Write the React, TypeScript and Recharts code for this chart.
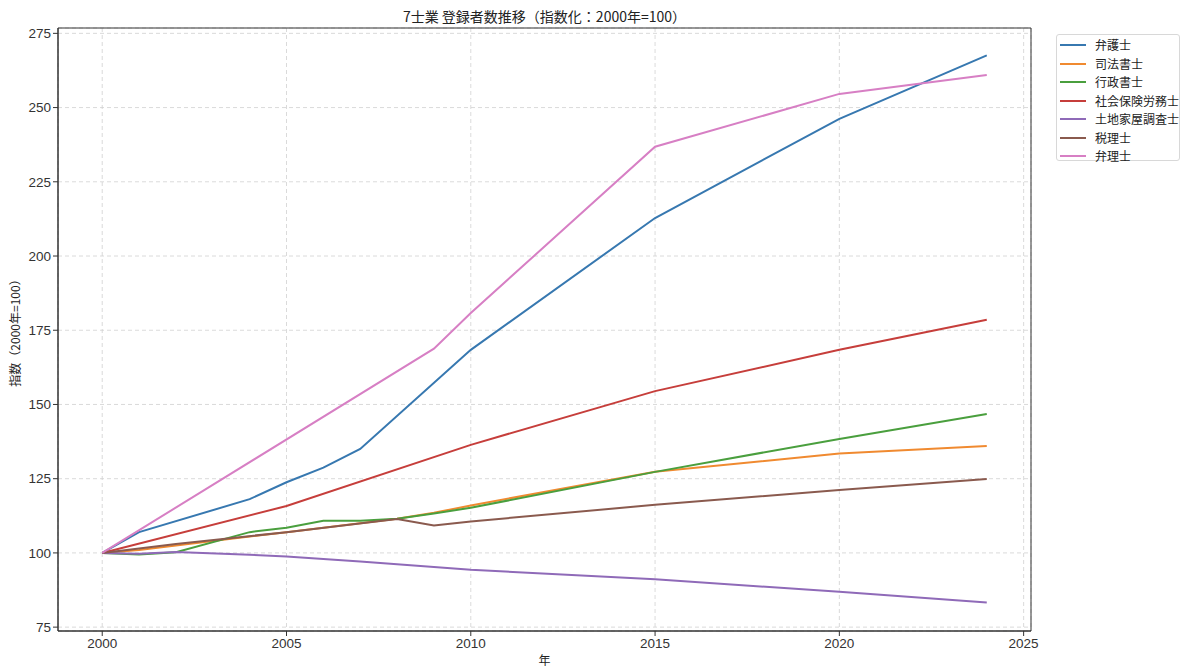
import React from 'react';
import { LineChart, Line, XAxis, YAxis, CartesianGrid, ReferenceArea } from 'recharts';

const years = [2000, 2001, 2002, 2003, 2004, 2005, 2006, 2007, 2008, 2009, 2010, 2015, 2020, 2024];

const bengoshi = [100, 107.0, null, null, 118.1, 123.8, 128.7, 135.0, null, null, 168.4, 212.8, 246.2, 267.6];
const shihoshoshi = [100, 101.0, 102.5, null, 105.5, 107.0, 108.5, 110.0, 111.5, 113.5, 116.0, 127.3, 133.5, 136.0];
const gyoseishoshi = [100, 99.5, 100.2, null, 107.0, 108.5, 110.8, 110.8, 111.5, 113.3, 115.2, 127.3, 138.4, 146.8];
const sharoshi = [100, null, null, null, null, 115.8, null, null, null, null, 136.4, 154.5, 168.4, 178.5];
const tochikaoku = [100, 99.7, 100.3, null, 99.4, 98.8, null, 97.1, null, null, 94.3, 91.1, 86.9, 83.3];
const zeirishi = [100, null, 103.0, null, null, 107.0, null, null, 111.4, 109.2, 110.6, 116.2, 121.2, 124.9];
const benrishi = [100, null, null, null, null, null, null, null, null, 168.8, 180.8, 236.8, 254.6, 261.0];

const seriesNames = ['弁護士', '司法書士', '行政書士', '社会保険労務士', '土地家屋調査士', '税理士', '弁理士'];
const seriesValues = [bengoshi, shihoshoshi, gyoseishoshi, sharoshi, tochikaoku, zeirishi, benrishi];
const colors = ['#3778b0', '#f08a30', '#4a9f3e', '#c63e3b', '#8f6ab8', '#8a5a4e', '#d77fc4'];

const xTicks = [2000, 2005, 2010, 2015, 2020, 2025];
const yTicks = [75, 100, 125, 150, 175, 200, 225, 250, 275];

const title = '7士業 登録者数推移（指数化：2000年=100）';
const xLabel = '年';
const yLabel = '指数（2000年=100）';

const data = years.map((y, i) => {
  const row: Record<string, number | null> = { year: y };
  seriesNames.forEach((n, k) => {
    row[n] = seriesValues[k][i];
  });
  return row;
});

const FONT = '"Noto Sans CJK JP", "Noto Sans", sans-serif';
const TICK_FONT = '"Liberation Sans", Arial, sans-serif';

const LegendBox = () => (
  <div
    style={{
      position: 'absolute',
      left: 1056,
      top: 34,
      width: 124,
      height: 127,
      border: '1px solid #d8d8d8',
      borderRadius: 3,
      background: '#fff',
      fontFamily: FONT,
      fontSize: 12,
      color: '#222',
      boxSizing: 'border-box',
      paddingTop: 1,
    }}
  >
    {seriesNames.map((n, i) => (
      <div key={n} style={{ display: 'flex', alignItems: 'center', height: 18.5 }}>
        <div style={{ marginLeft: 3, width: 26, height: 2, background: colors[i] }} />
        <span style={{ marginLeft: 9, lineHeight: '18px' }}>{n}</span>
      </div>
    ))}
  </div>
);

export default function App() {
  return (
    <div style={{ position: 'absolute', left: 0, top: 0, width: 1200, height: 669, background: '#fff', fontFamily: FONT }}>
      <LineChart
        width={1200}
        height={669}
        data={data}
        margin={{ top: 28, right: 169, bottom: 8, left: 0 }}
      >
        <CartesianGrid stroke="#d0d0d0" strokeDasharray="4 3" strokeWidth={0.8} />
        <XAxis
          dataKey="year"
          type="number"
          domain={[1998.8, 2025.2]}
          ticks={xTicks}
          allowDataOverflow
          height={30}
          tickSize={5}
          tickLine={{ stroke: '#333' }}
          axisLine={{ stroke: '#333' }}
          tick={{ fill: '#333', fontSize: 13.5, fontFamily: TICK_FONT }}
        />
        <YAxis
          type="number"
          domain={[73.7, 276.8]}
          ticks={yTicks}
          allowDataOverflow
          width={58}
          tickSize={5}
          tickLine={{ stroke: '#333' }}
          axisLine={{ stroke: '#333' }}
          tick={{ fill: '#333', fontSize: 13.5, fontFamily: TICK_FONT }}
        />
        <ReferenceArea x1={1998.8} x2={2025.2} y1={73.7} y2={276.8} fill="none" stroke="#333" strokeWidth={1} ifOverflow="visible" />
        {seriesNames.map((n, i) => (
          <Line
            key={n}
            type="linear"
            dataKey={n}
            stroke={colors[i]}
            strokeWidth={2}
            dot={false}
            activeDot={false}
            connectNulls
            isAnimationActive={false}
          />
        ))}
      </LineChart>
      <div style={{ position: 'absolute', left: 58, width: 973, top: 6, textAlign: 'center', fontSize: 14, color: '#222' }}>{title}</div>
      <div style={{ position: 'absolute', left: 58, width: 973, top: 651, textAlign: 'center', fontSize: 12, color: '#222' }}>{xLabel}</div>
      <div
        style={{
          position: 'absolute',
          left: 14,
          top: 330,
          transform: 'translate(-50%, -50%) rotate(-90deg)',
          whiteSpace: 'nowrap',
          fontSize: 12,
          color: '#222',
        }}
      >
        {yLabel}
      </div>
      <LegendBox />
    </div>
  );
}
